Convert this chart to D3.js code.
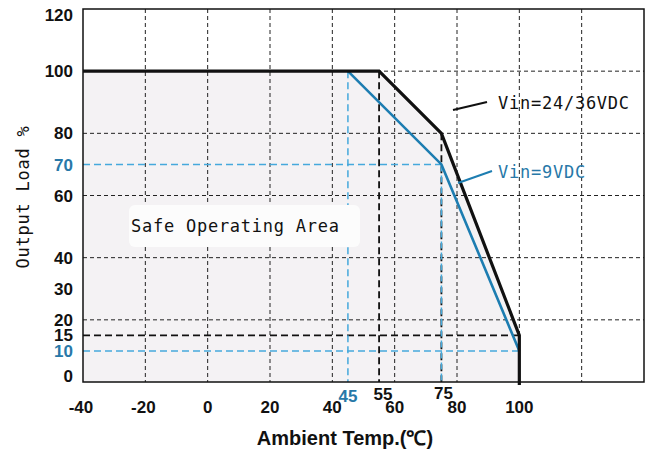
<!DOCTYPE html>
<html lang="en">
<head>
    <meta charset="UTF-8">
    <title>Derating Curve</title>
    <script src="https://d3js.org/d3.v7.min.js"></script>
    <style>
      body { margin: 0; background: #fff; }
      .tick-label { font-family: "Liberation Sans", Arial, sans-serif; font-weight: bold; font-size: 17px; }
      .mono { font-family: "DejaVu Sans Mono", "Liberation Mono", monospace; font-size: 17px; letter-spacing: 0.75px; }
    </style>
</head>
<body>
    <div id="chart"></div>

    <script>
        // chart data
        const xTicks = [-40, -20, 0, 20, 40, 60, 80, 100];
        const xGrid = [-20, 0, 20, 40, 60, 80, 100, 120];
        const yTicks = [0, 10, 15, 20, 30, 40, 60, 70, 80, 100, 120];
        const yGrid = [20, 40, 60, 80, 100];
        const blueTicks = [10, 70];

        const vin24 = [[-40, 100], [55, 100], [75, 80], [100, 15], [100, 0]];
        const vin9 = [[45, 100], [75, 70], [100, 10]];

        // marker temperatures and loads with their dashed guide lines
        const markTemps = [
            { t: 45, from: 100, color: "blue" },
            { t: 55, from: 100, color: "black" },
            { t: 75, from: 80, color: "black" },
            { t: 75, from: 70, color: "blue" }
        ];
        const markLoads = [
            { v: 70, to: 75, color: "blue" },
            { v: 15, to: 100, color: "black" },
            { v: 10, to: 100, color: "blue" }
        ];

        const W = 650, H = 454;
        const plotL = 83, plotR = 644, plotT = 9, plotB = 382;

        const black = "#111";
        const blueLine = "#1d7db1";
        const blueDash = "#45a9dc";
        const blueText = "#2878a8";

        const svg = d3.select("#chart").append("svg")
            .attr("width", W).attr("height", H);

        const x = d3.scaleLinear().domain([-40, 140]).range([plotL, plotR]);
        const y = d3.scaleLinear().domain([0, 120]).range([plotB, plotT]);

        // shaded safe area under the 24/36V curve
        const area = d3.area().x(d => x(d[0])).y0(y(0)).y1(d => y(d[1]));
        svg.append("path")
            .datum(vin24)
            .attr("d", area)
            .attr("fill", "#f4f2f4");

        // grid
        svg.append("g").selectAll("line")
            .data(xGrid).enter().append("line")
            .attr("x1", d => x(d)).attr("x2", d => x(d))
            .attr("y1", plotT).attr("y2", plotB)
            .attr("stroke", "#222").attr("stroke-width", 1)
            .attr("stroke-dasharray", "4,3");

        svg.append("g").selectAll("line")
            .data(yGrid).enter().append("line")
            .attr("x1", plotL).attr("x2", plotR)
            .attr("y1", d => y(d)).attr("y2", d => y(d))
            .attr("stroke", "#222").attr("stroke-width", 1)
            .attr("stroke-dasharray", "4,3");

        // dashed guides
        svg.append("g").selectAll("line")
            .data(markLoads).enter().append("line")
            .attr("x1", plotL).attr("x2", d => x(d.to))
            .attr("y1", d => y(d.v)).attr("y2", d => y(d.v))
            .attr("stroke", d => d.color === "blue" ? blueDash : black)
            .attr("stroke-width", d => d.color === "blue" ? 1.5 : 1.8)
            .attr("stroke-dasharray", "7,4");

        svg.append("g").selectAll("line")
            .data(markTemps).enter().append("line")
            .attr("x1", d => x(d.t)).attr("x2", d => x(d.t))
            .attr("y1", d => y(d.from)).attr("y2", plotB)
            .attr("stroke", d => d.color === "blue" ? blueDash : black)
            .attr("stroke-width", d => d.color === "blue" ? 1.5 : 1.8)
            .attr("stroke-dasharray", "7,4");

        // label box for the safe area
        svg.append("rect")
            .attr("x", 129).attr("y", 205)
            .attr("width", 231).attr("height", 42)
            .attr("rx", 6)
            .attr("fill", "#fcfcfc");

        svg.append("text")
            .attr("class", "mono")
            .attr("x", 131).attr("y", 232)
            .attr("fill", "#111")
            .text("Safe Operating Area");

        // frame
        svg.append("rect")
            .attr("x", plotL).attr("y", plotT)
            .attr("width", plotR - plotL).attr("height", plotB - plotT)
            .attr("fill", "none")
            .attr("stroke", black).attr("stroke-width", 1.5);

        // curves
        const line = d3.line().x(d => x(d[0])).y(d => y(d[1]));

        svg.append("path")
            .datum(vin9)
            .attr("d", line)
            .attr("fill", "none")
            .attr("stroke", blueLine).attr("stroke-width", 2.6);

        svg.append("path")
            .datum(vin24)
            .attr("d", line)
            .attr("fill", "none")
            .attr("stroke", black).attr("stroke-width", 3.2)
            .attr("stroke-linejoin", "miter");

        // short tail of the 100C edge below the axis
        svg.append("line")
            .attr("x1", x(100)).attr("x2", x(100))
            .attr("y1", y(0)).attr("y2", y(0) + 3)
            .attr("stroke", black).attr("stroke-width", 3.2);

        // annotations
        svg.append("line")
            .attr("x1", 453).attr("y1", 110).attr("x2", 487).attr("y2", 102)
            .attr("stroke", black).attr("stroke-width", 2);
        svg.append("text")
            .attr("class", "mono")
            .attr("x", 498).attr("y", 109)
            .attr("fill", "#111")
            .text("Vin=24/36VDC");

        svg.append("line")
            .attr("x1", 458).attr("y1", 183).attr("x2", 492).attr("y2", 171)
            .attr("stroke", blueLine).attr("stroke-width", 2);
        svg.append("text")
            .attr("class", "mono")
            .attr("x", 498).attr("y", 178)
            .attr("fill", blueText)
            .text("Vin=9VDC");

        // y tick labels
        svg.append("g").selectAll("text")
            .data(yTicks).enter().append("text")
            .attr("class", "tick-label")
            .attr("x", 73)
            .attr("y", d => Math.min(Math.max(y(d), 15), 376))
            .attr("dy", "0.36em")
            .attr("text-anchor", "end")
            .attr("fill", d => blueTicks.includes(d) ? blueText : "#111")
            .text(d => d);

        // x tick labels
        svg.append("g").selectAll("text")
            .data(xTicks).enter().append("text")
            .attr("class", "tick-label")
            .attr("x", d => x(d) + (d < 0 ? -2 : 0))
            .attr("y", 413)
            .attr("text-anchor", "middle")
            .attr("fill", "#111")
            .text(d => d);

        // marker temperature labels
        const markLabels = [
            { t: 45, dx: 0, y: 402, color: blueText },
            { t: 55, dx: 4, y: 400, color: "#111" },
            { t: 75, dx: 2, y: 399, color: "#111" }
        ];
        svg.append("g").selectAll("text")
            .data(markLabels).enter().append("text")
            .attr("class", "tick-label")
            .attr("x", d => x(d.t) + d.dx)
            .attr("y", d => d.y)
            .attr("text-anchor", "middle")
            .attr("fill", d => d.color)
            .text(d => d.t);

        // axis titles
        svg.append("text")
            .attr("x", 345).attr("y", 445)
            .attr("text-anchor", "middle")
            .style("font-family", "'Liberation Sans', Arial, sans-serif")
            .style("font-weight", "bold")
            .style("font-size", "20px")
            .attr("fill", "#111")
            .text("Ambient Temp.(\u2103)");

        svg.append("text")
            .attr("class", "mono")
            .attr("transform", "translate(29,197) rotate(-90)")
            .attr("text-anchor", "middle")
            .attr("fill", "#111")
            .text("Output Load %");
    </script>
</body>
</html>
